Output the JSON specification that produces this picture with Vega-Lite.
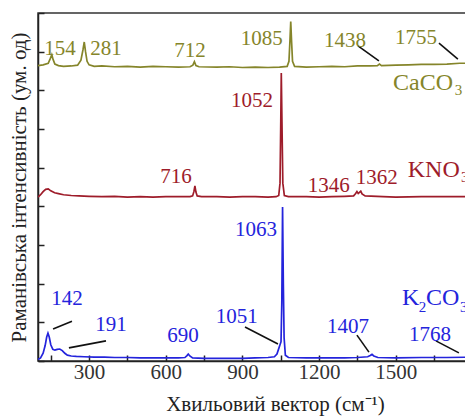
{
  "$schema": "https://vega.github.io/schema/vega-lite/v6.json",
  "width": 460,
  "height": 348,
  "autosize": {"type": "none"},
  "padding": {"left": 38, "top": 13, "right": 0, "bottom": 59},
  "background": "white",
  "config": {
    "view": {"stroke": "#333", "strokeWidth": 1.5},
    "font": "Liberation Serif"
  },
  "datasets": {
    "spectra": [
      {"s":"CaCO3","x":100,"y":7.64},{"s":"CaCO3","x":120,"y":7.66},{"s":"CaCO3","x":140,"y":7.70},{"s":"CaCO3","x":148,"y":7.82},{"s":"CaCO3","x":154,"y":7.92},{"s":"CaCO3","x":159,"y":7.80},{"s":"CaCO3","x":166,"y":7.68},{"s":"CaCO3","x":180,"y":7.64},{"s":"CaCO3","x":200,"y":7.62},{"s":"CaCO3","x":230,"y":7.63},{"s":"CaCO3","x":255,"y":7.65},{"s":"CaCO3","x":268,"y":7.78},{"s":"CaCO3","x":276,"y":8.05},{"s":"CaCO3","x":281,"y":8.25},{"s":"CaCO3","x":286,"y":8.00},{"s":"CaCO3","x":292,"y":7.75},{"s":"CaCO3","x":300,"y":7.66},{"s":"CaCO3","x":320,"y":7.62},{"s":"CaCO3","x":350,"y":7.63},{"s":"CaCO3","x":400,"y":7.61},{"s":"CaCO3","x":450,"y":7.62},{"s":"CaCO3","x":500,"y":7.60},{"s":"CaCO3","x":550,"y":7.62},{"s":"CaCO3","x":600,"y":7.61},{"s":"CaCO3","x":650,"y":7.60},{"s":"CaCO3","x":695,"y":7.61},{"s":"CaCO3","x":706,"y":7.65},{"s":"CaCO3","x":712,"y":7.74},{"s":"CaCO3","x":718,"y":7.64},{"s":"CaCO3","x":730,"y":7.61},{"s":"CaCO3","x":800,"y":7.60},{"s":"CaCO3","x":850,"y":7.61},{"s":"CaCO3","x":900,"y":7.59},{"s":"CaCO3","x":950,"y":7.60},{"s":"CaCO3","x":1000,"y":7.59},{"s":"CaCO3","x":1045,"y":7.60},{"s":"CaCO3","x":1075,"y":7.62},{"s":"CaCO3","x":1082,"y":7.75},{"s":"CaCO3","x":1086,"y":8.3},{"s":"CaCO3","x":1089,"y":8.78},{"s":"CaCO3","x":1092,"y":8.3},{"s":"CaCO3","x":1096,"y":7.75},{"s":"CaCO3","x":1104,"y":7.62},{"s":"CaCO3","x":1150,"y":7.60},{"s":"CaCO3","x":1200,"y":7.61},{"s":"CaCO3","x":1250,"y":7.62},{"s":"CaCO3","x":1300,"y":7.61},{"s":"CaCO3","x":1350,"y":7.63},{"s":"CaCO3","x":1400,"y":7.63},{"s":"CaCO3","x":1428,"y":7.64},{"s":"CaCO3","x":1436,"y":7.68},{"s":"CaCO3","x":1444,"y":7.64},{"s":"CaCO3","x":1500,"y":7.65},{"s":"CaCO3","x":1550,"y":7.66},{"s":"CaCO3","x":1600,"y":7.67},{"s":"CaCO3","x":1650,"y":7.67},{"s":"CaCO3","x":1700,"y":7.68},{"s":"CaCO3","x":1750,"y":7.70},{"s":"CaCO3","x":1800,"y":7.70},{"s":"CaCO3","x":1850,"y":7.71},{"s":"CaCO3","x":1900,"y":7.71},
      {"s":"KNO3","x":100,"y":4.24},{"s":"KNO3","x":110,"y":4.30},{"s":"KNO3","x":120,"y":4.38},{"s":"KNO3","x":130,"y":4.44},{"s":"KNO3","x":140,"y":4.45},{"s":"KNO3","x":150,"y":4.40},{"s":"KNO3","x":165,"y":4.35},{"s":"KNO3","x":180,"y":4.33},{"s":"KNO3","x":200,"y":4.30},{"s":"KNO3","x":230,"y":4.28},{"s":"KNO3","x":260,"y":4.27},{"s":"KNO3","x":300,"y":4.26},{"s":"KNO3","x":350,"y":4.25},{"s":"KNO3","x":400,"y":4.26},{"s":"KNO3","x":450,"y":4.24},{"s":"KNO3","x":500,"y":4.25},{"s":"KNO3","x":550,"y":4.24},{"s":"KNO3","x":600,"y":4.25},{"s":"KNO3","x":650,"y":4.25},{"s":"KNO3","x":695,"y":4.25},{"s":"KNO3","x":705,"y":4.27},{"s":"KNO3","x":710,"y":4.38},{"s":"KNO3","x":714,"y":4.53},{"s":"KNO3","x":718,"y":4.37},{"s":"KNO3","x":723,"y":4.27},{"s":"KNO3","x":740,"y":4.25},{"s":"KNO3","x":800,"y":4.25},{"s":"KNO3","x":850,"y":4.24},{"s":"KNO3","x":900,"y":4.25},{"s":"KNO3","x":950,"y":4.25},{"s":"KNO3","x":1000,"y":4.24},{"s":"KNO3","x":1032,"y":4.25},{"s":"KNO3","x":1042,"y":4.28},{"s":"KNO3","x":1047,"y":4.6},{"s":"KNO3","x":1050,"y":6.2},{"s":"KNO3","x":1052,"y":7.45},{"s":"KNO3","x":1055,"y":6.0},{"s":"KNO3","x":1058,"y":4.6},{"s":"KNO3","x":1064,"y":4.28},{"s":"KNO3","x":1080,"y":4.25},{"s":"KNO3","x":1150,"y":4.25},{"s":"KNO3","x":1200,"y":4.24},{"s":"KNO3","x":1250,"y":4.25},{"s":"KNO3","x":1300,"y":4.26},{"s":"KNO3","x":1335,"y":4.27},{"s":"KNO3","x":1343,"y":4.33},{"s":"KNO3","x":1348,"y":4.38},{"s":"KNO3","x":1353,"y":4.33},{"s":"KNO3","x":1358,"y":4.36},{"s":"KNO3","x":1363,"y":4.39},{"s":"KNO3","x":1368,"y":4.32},{"s":"KNO3","x":1380,"y":4.27},{"s":"KNO3","x":1450,"y":4.25},{"s":"KNO3","x":1500,"y":4.24},{"s":"KNO3","x":1600,"y":4.25},{"s":"KNO3","x":1700,"y":4.25},{"s":"KNO3","x":1800,"y":4.25},{"s":"KNO3","x":1900,"y":4.25},
      {"s":"K2CO3","x":100,"y":0.04},{"s":"K2CO3","x":110,"y":0.08},{"s":"K2CO3","x":120,"y":0.2},{"s":"K2CO3","x":128,"y":0.4},{"s":"K2CO3","x":134,"y":0.62},{"s":"K2CO3","x":139,"y":0.72},{"s":"K2CO3","x":144,"y":0.62},{"s":"K2CO3","x":150,"y":0.42},{"s":"K2CO3","x":158,"y":0.30},{"s":"K2CO3","x":166,"y":0.28},{"s":"K2CO3","x":175,"y":0.30},{"s":"K2CO3","x":185,"y":0.31},{"s":"K2CO3","x":195,"y":0.27},{"s":"K2CO3","x":205,"y":0.20},{"s":"K2CO3","x":215,"y":0.15},{"s":"K2CO3","x":230,"y":0.13},{"s":"K2CO3","x":250,"y":0.12},{"s":"K2CO3","x":280,"y":0.11},{"s":"K2CO3","x":320,"y":0.10},{"s":"K2CO3","x":360,"y":0.10},{"s":"K2CO3","x":400,"y":0.09},{"s":"K2CO3","x":450,"y":0.09},{"s":"K2CO3","x":500,"y":0.08},{"s":"K2CO3","x":550,"y":0.08},{"s":"K2CO3","x":600,"y":0.08},{"s":"K2CO3","x":650,"y":0.08},{"s":"K2CO3","x":675,"y":0.09},{"s":"K2CO3","x":683,"y":0.14},{"s":"K2CO3","x":688,"y":0.18},{"s":"K2CO3","x":694,"y":0.13},{"s":"K2CO3","x":705,"y":0.08},{"s":"K2CO3","x":750,"y":0.07},{"s":"K2CO3","x":800,"y":0.07},{"s":"K2CO3","x":850,"y":0.07},{"s":"K2CO3","x":900,"y":0.07},{"s":"K2CO3","x":950,"y":0.08},{"s":"K2CO3","x":1000,"y":0.09},{"s":"K2CO3","x":1025,"y":0.11},{"s":"K2CO3","x":1035,"y":0.18},{"s":"K2CO3","x":1042,"y":0.32},{"s":"K2CO3","x":1047,"y":0.42},{"s":"K2CO3","x":1051,"y":0.50},{"s":"K2CO3","x":1054,"y":1.5},{"s":"K2CO3","x":1057,"y":3.98},{"s":"K2CO3","x":1060,"y":2.0},{"s":"K2CO3","x":1063,"y":0.6},{"s":"K2CO3","x":1068,"y":0.15},{"s":"K2CO3","x":1080,"y":0.09},{"s":"K2CO3","x":1150,"y":0.08},{"s":"K2CO3","x":1200,"y":0.08},{"s":"K2CO3","x":1250,"y":0.08},{"s":"K2CO3","x":1300,"y":0.08},{"s":"K2CO3","x":1350,"y":0.09},{"s":"K2CO3","x":1390,"y":0.11},{"s":"K2CO3","x":1400,"y":0.14},{"s":"K2CO3","x":1407,"y":0.17},{"s":"K2CO3","x":1414,"y":0.13},{"s":"K2CO3","x":1430,"y":0.09},{"s":"K2CO3","x":1500,"y":0.08},{"s":"K2CO3","x":1600,"y":0.09},{"s":"K2CO3","x":1700,"y":0.09},{"s":"K2CO3","x":1800,"y":0.10},{"s":"K2CO3","x":1900,"y":0.10}
    ],
    "leaders": [
      {"x":1352,"y":8.15,"x2":1434,"y2":7.76},
      {"x":1669,"y":8.22,"x2":1743,"y2":7.81},
      {"x":159,"y":0.83,"x2":233,"y2":1.03},
      {"x":221,"y":0.34,"x2":366,"y2":0.52},
      {"x":910,"y":0.88,"x2":1039,"y2":0.44},
      {"x":1348,"y":0.67,"x2":1395,"y2":0.23},
      {"x":1657,"y":0.52,"x2":1747,"y2":0.21}
    ],
    "nums": [
      {"t":"154","s":"CaCO3","x":186,"y":7.91},
      {"t":"281","s":"CaCO3","x":366,"y":7.91},
      {"t":"712","s":"CaCO3","x":695,"y":7.86},
      {"t":"1085","s":"CaCO3","x":976,"y":8.17},
      {"t":"1438","s":"CaCO3","x":1301,"y":8.12},
      {"t":"1755","s":"CaCO3","x":1579,"y":8.20},
      {"t":"1052","s":"KNO3","x":937,"y":6.57},
      {"t":"716","s":"KNO3","x":640,"y":4.60},
      {"t":"1346","s":"KNO3","x":1238,"y":4.37},
      {"t":"1362","s":"KNO3","x":1426,"y":4.58},
      {"t":"1063","s":"K2CO3","x":953,"y":3.23},
      {"t":"142","s":"K2CO3","x":213,"y":1.45},
      {"t":"191","s":"K2CO3","x":386,"y":0.78},
      {"t":"690","s":"K2CO3","x":667,"y":0.49},
      {"t":"1051","s":"K2CO3","x":878,"y":0.98},
      {"t":"1407","s":"K2CO3","x":1313,"y":0.72},
      {"t":"1768","s":"K2CO3","x":1634,"y":0.52}
    ],
    "names": [
      {"t":"CaCO","s":"CaCO3","x":1489,"y":7.01},
      {"t":"KNO","s":"KNO3","x":1547,"y":4.76},
      {"t":"K","s":"K2CO3","x":1524,"y":1.45},
      {"t":"CO","s":"K2CO3","x":1618,"y":1.45}
    ],
    "subs": [
      {"t":"3","s":"CaCO3","x":1731,"y":6.88},
      {"t":"3","s":"KNO3","x":1755,"y":4.63},
      {"t":"2","s":"K2CO3","x":1590,"y":1.28},
      {"t":"3","s":"K2CO3","x":1751,"y":1.28}
    ]
  },
  "encoding": {
    "x": {"field":"x","type":"quantitative","scale":{"domain":[100,1900],"nice":false,"zero":false},
      "axis":{"values":[150,300,450,600,750,900,1050,1200,1350,1500,1650,1800],"format":"d",
        "labelExpr":"datum.value % 300 == 0 && datum.value <= 1500 ? datum.label : ''",
        "tickSize":-6,"tickWidth":1.5,"tickColor":"#222","domainColor":"#222","domainWidth":1.5,
        "labelFont":"Liberation Serif","labelFontSize":21,"labelColor":"#333","labelPadding":6,
        "grid":false,"title":"Хвильовий вектор (см⁻¹)","titleFont":"Liberation Serif","titleFontSize":21,
        "titleFontWeight":"normal","titleColor":"#222","titlePadding":11,"titleX":237}},
    "y": {"field":"y","type":"quantitative","scale":{"domain":[0,9],"nice":false,"zero":false},
      "axis":{"values":[0,1,2,3,4,5,6,7,8,9],"labels":false,"tickSize":-6,"tickWidth":1.5,"tickColor":"#222",
        "domainColor":"#222","domainWidth":1.5,"grid":false,
        "title":"Раманівська інтенсивність (ум. од)","titleFont":"Liberation Serif","titleFontSize":21,
        "titleFontWeight":"normal","titleColor":"#222","titlePadding":8}},
    "color": {"field":"s","type":"nominal","legend":null,
      "scale":{"domain":["CaCO3","KNO3","K2CO3"],"range":["#85852a","#9e1c2a","#2424dc"]}}
  },
  "layer": [
    {"data":{"name":"spectra"},"mark":{"type":"line","strokeWidth":1.7,"clip":true,"interpolate":"linear"},
      "encoding":{"order":{"field":"x","type":"quantitative"}}},
    {"data":{"name":"leaders"},"mark":{"type":"rule","color":"#111","strokeWidth":1.6},
      "encoding":{"x2":{"field":"x2"},"y2":{"field":"y2"},"color":{"value":"#111"}}},
    {"data":{"name":"nums"},"mark":{"type":"text","align":"center","baseline":"alphabetic","fontSize":21,"font":"Liberation Serif"},
      "encoding":{"text":{"field":"t"}}},
    {"data":{"name":"names"},"mark":{"type":"text","align":"left","baseline":"alphabetic","fontSize":24,"font":"Liberation Serif"},
      "encoding":{"text":{"field":"t"}}},
    {"data":{"name":"subs"},"mark":{"type":"text","align":"left","baseline":"alphabetic","fontSize":15,"font":"Liberation Serif"},
      "encoding":{"text":{"field":"t"}}}
  ]
}
